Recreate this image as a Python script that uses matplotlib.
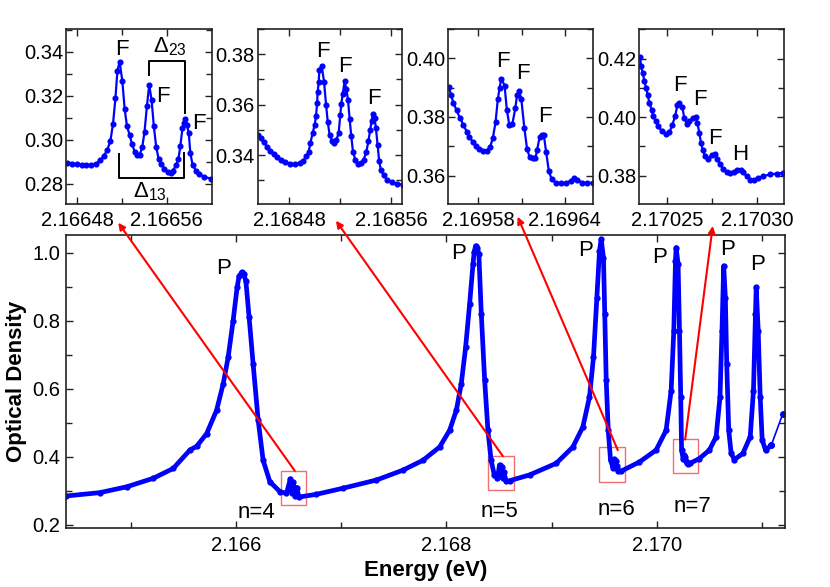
import matplotlib
matplotlib.use("Agg")
import matplotlib.pyplot as plt
from matplotlib.patches import Rectangle
from matplotlib.ticker import MultipleLocator, FixedLocator, FormatStrFormatter

plt.rcParams['font.family'] = ['Liberation Sans', 'DejaVu Sans']
plt.rcParams['mathtext.fontset'] = 'custom'
plt.rcParams['mathtext.rm'] = 'Liberation Sans'
plt.rcParams['mathtext.it'] = 'Liberation Sans'

# ---- main spectrum (energy in eV, optical density) ----
e_main = [2.164386, 2.164709, 2.164962, 2.165215, 2.165405, 2.165563, 2.165627, 2.165722,
          2.165817, 2.165880, 2.165927, 2.165974, 2.166012, 2.166030, 2.166054, 2.166075,
          2.166095, 2.166126,
          2.166164, 2.166212, 2.166259, 2.166323, 2.166418, 2.166481, 2.166518, 2.166534,
          2.166544, 2.166563, 2.166577, 2.166600, 2.166766, 2.167019, 2.167336, 2.167588,
          2.167778, 2.167936, 2.168031, 2.168095, 2.168142, 2.168183, 2.168221, 2.168253,
          2.168265, 2.168278, 2.168295, 2.168309, 2.168332, 2.168364, 2.168395, 2.168425,
          2.168455, 2.168485,
          2.168505, 2.168515, 2.168524, 2.168538, 2.168546, 2.168569, 2.168601, 2.168791,
          2.169044, 2.169202, 2.169297, 2.169360, 2.169398, 2.169430, 2.169455, 2.169471,
          2.169493, 2.169505, 2.169519, 2.169538, 2.169560, 2.169584, 2.169596, 2.169603,
          2.169608, 2.169616, 2.169624, 2.169634, 2.169660, 2.169835, 2.169993, 2.170088,
          2.170136, 2.170161, 2.170177, 2.170183, 2.170202, 2.170215, 2.170227, 2.170235,
          2.170250, 2.170257, 2.170266, 2.170277, 2.170290, 2.170296, 2.170315, 2.170404,
          2.170499, 2.170563, 2.170600, 2.170619, 2.170635, 2.170651, 2.170664, 2.170683,
          2.170706, 2.170737, 2.170817, 2.170887, 2.170918, 2.170937, 2.170944, 2.170963,
          2.170982, 2.171001, 2.171033, 2.171087]
od_main = [0.285, 0.295, 0.312, 0.337, 0.366, 0.420, 0.431, 0.468,
           0.537, 0.615, 0.693, 0.800, 0.898, 0.930, 0.942, 0.936,
           0.917, 0.810,
           0.673, 0.508, 0.390, 0.327, 0.298, 0.293, 0.335, 0.293,
           0.325, 0.285, 0.310, 0.282, 0.290, 0.308, 0.332, 0.361,
           0.390, 0.429, 0.478, 0.537, 0.615, 0.722, 0.849, 0.966,
           1.003, 1.020, 1.014, 0.995, 0.820, 0.625, 0.478, 0.390,
           0.348, 0.337,
           0.376, 0.345, 0.369, 0.337, 0.356, 0.328, 0.330, 0.347,
           0.381, 0.429, 0.488, 0.576, 0.693, 0.868, 1.005, 1.039,
           0.985, 0.820, 0.625, 0.478, 0.390, 0.368, 0.393, 0.378,
           0.389, 0.366, 0.374, 0.358, 0.358, 0.385, 0.420, 0.478,
           0.595, 0.771, 0.976, 1.015, 0.966, 0.771, 0.576, 0.420,
           0.394, 0.405, 0.400, 0.387, 0.382, 0.379, 0.381, 0.395,
           0.420, 0.459, 0.576, 0.771, 0.961, 0.868, 0.673, 0.478,
           0.410, 0.392, 0.410, 0.459, 0.595, 0.820, 0.898, 0.771,
           0.576, 0.449, 0.420, 0.434]
# last, sparsely sampled part of the scan
e_tail = [2.171087, 2.171197]
od_tail = [0.434, 0.527]

# ---- n=4 fine structure ----
e_n4 = [2.1664705, 2.1664750, 2.1664794, 2.1664839, 2.1664883, 2.1664927, 2.1664972, 2.1665001,
        2.1665037, 2.1665067, 2.1665096, 2.1665120, 2.1665141, 2.1665159, 2.1665179, 2.1665203,
        2.1665224, 2.1665244, 2.1665268, 2.1665289, 2.1665313, 2.1665336, 2.1665357, 2.1665381,
        2.1665401, 2.1665422, 2.1665443, 2.1665464, 2.1665484, 2.1665505, 2.1665526, 2.1665550,
        2.1665579, 2.1665609, 2.1665633, 2.1665653, 2.1665683, 2.1665704, 2.1665721, 2.1665739,
        2.1665751, 2.1665766, 2.1665781, 2.1665796, 2.1665810, 2.1665831, 2.1665861, 2.1665890,
        2.1665935, 2.1665994]
od_n4 = [0.2894, 0.2891, 0.2888, 0.2885, 0.2884, 0.2885, 0.2891, 0.2906,
         0.2925, 0.2952, 0.2993, 0.3073, 0.3187, 0.3313, 0.3354, 0.3266,
         0.3137, 0.3063, 0.3020, 0.2982, 0.2944, 0.2929, 0.2929, 0.2967,
         0.3036, 0.3152, 0.3248, 0.3180, 0.3061, 0.2967, 0.2914, 0.2888,
         0.2868, 0.2853, 0.2846, 0.2858, 0.2884, 0.2914, 0.2972, 0.3051,
         0.3077, 0.3096, 0.3066, 0.3028, 0.2937, 0.2884, 0.2858, 0.2843,
         0.2830, 0.2823]

# ---- n=5 fine structure ----
e_n5 = [2.1684553, 2.1684572, 2.1684598, 2.1684624, 2.1684650, 2.1684677, 2.1684703, 2.1684734,
        2.1684769, 2.1684808, 2.1684847, 2.1684881, 2.1684908, 2.1684934, 2.1684952, 2.1684965,
        2.1684984, 2.1684999, 2.1685010, 2.1685018, 2.1685023, 2.1685031, 2.1685036, 2.1685054,
        2.1685073, 2.1685089, 2.1685102, 2.1685117, 2.1685136, 2.1685154, 2.1685170, 2.1685188,
        2.1685201, 2.1685209, 2.1685220, 2.1685235, 2.1685249, 2.1685262, 2.1685275, 2.1685288,
        2.1685301, 2.1685319, 2.1685340, 2.1685364, 2.1685385, 2.1685406, 2.1685422, 2.1685437,
        2.1685448, 2.1685458, 2.1685472, 2.1685482, 2.1685495, 2.1685508, 2.1685521, 2.1685542,
        2.1685569, 2.1685608, 2.1685647, 2.1685692]
od_n5 = [0.3480, 0.3467, 0.3450, 0.3434, 0.3418, 0.3405, 0.3392, 0.3382,
         0.3372, 0.3366, 0.3364, 0.3368, 0.3378, 0.3395, 0.3414, 0.3447,
         0.3489, 0.3520, 0.3555, 0.3605, 0.3651, 0.3691, 0.3737, 0.3755,
         0.3691, 0.3599, 0.3533, 0.3480, 0.3454, 0.3447, 0.3460, 0.3487,
         0.3559, 0.3603, 0.3641, 0.3692, 0.3661, 0.3618, 0.3542, 0.3474,
         0.3414, 0.3382, 0.3364, 0.3368, 0.3382, 0.3411, 0.3454, 0.3500,
         0.3537, 0.3562, 0.3546, 0.3507, 0.3441, 0.3375, 0.3342, 0.3320,
         0.3303, 0.3292, 0.3286, 0.3283]

# ---- n=6 fine structure ----
e_n6 = [2.1695595, 2.1695609, 2.1695625, 2.1695648, 2.1695672, 2.1695695, 2.1695718, 2.1695737,
        2.1695760, 2.1695784, 2.1695807, 2.1695835, 2.1695858, 2.1695882, 2.1695900, 2.1695919,
        2.1695935, 2.1695947, 2.1695959, 2.1695982, 2.1695998, 2.1696015, 2.1696036, 2.1696057,
        2.1696069, 2.1696083, 2.1696099, 2.1696120, 2.1696139, 2.1696157, 2.1696178, 2.1696197,
        2.1696209, 2.1696227, 2.1696244, 2.1696255, 2.1696272, 2.1696290, 2.1696309, 2.1696337,
        2.1696372, 2.1696407, 2.1696442, 2.1696465, 2.1696489, 2.1696524, 2.1696559, 2.1696601]
od_n6 = [0.3901, 0.3875, 0.3849, 0.3822, 0.3796, 0.3773, 0.3750, 0.3731,
         0.3716, 0.3702, 0.3691, 0.3684, 0.3685, 0.3699, 0.3727, 0.3781,
         0.3860, 0.3898, 0.3931, 0.3907, 0.3824, 0.3773, 0.3775, 0.3830,
         0.3875, 0.3890, 0.3860, 0.3761, 0.3690, 0.3663, 0.3659, 0.3659,
         0.3688, 0.3733, 0.3739, 0.3739, 0.3679, 0.3617, 0.3588, 0.3576,
         0.3574, 0.3574, 0.3582, 0.3593, 0.3585, 0.3576, 0.3574, 0.3576]

# ---- n=7 fine structure ----
e_n7 = [2.1702353, 2.1702358, 2.1702368, 2.1702377, 2.1702386, 2.1702395, 2.1702404, 2.1702417,
        2.1702426, 2.1702439, 2.1702454, 2.1702472, 2.1702496, 2.1702515, 2.1702531, 2.1702546,
        2.1702559, 2.1702570, 2.1702586, 2.1702597, 2.1702610, 2.1702625, 2.1702643, 2.1702660,
        2.1702669, 2.1702680, 2.1702689, 2.1702699, 2.1702711, 2.1702730, 2.1702748, 2.1702767,
        2.1702779, 2.1702794, 2.1702812, 2.1702831, 2.1702849, 2.1702871, 2.1702890, 2.1702908,
        2.1702923, 2.1702941, 2.1702960, 2.1702982, 2.1703005, 2.1703033, 2.1703070, 2.1703107,
        2.1703143]
od_n7 = [0.4207, 0.4173, 0.4150, 0.4122, 0.4099, 0.4076, 0.4048, 0.4025,
         0.4005, 0.3985, 0.3968, 0.3953, 0.3942, 0.3948, 0.3974, 0.4002,
         0.4042, 0.4048, 0.4034, 0.3997, 0.3977, 0.3985, 0.3997, 0.4000,
         0.3980, 0.3946, 0.3911, 0.3889, 0.3866, 0.3857, 0.3872, 0.3874,
         0.3857, 0.3838, 0.3823, 0.3811, 0.3809, 0.3811, 0.3818, 0.3820,
         0.3811, 0.3798, 0.3786, 0.3786, 0.3792, 0.3798, 0.3804, 0.3807,
         0.3809]

BLUE = '#0000ff'
FS_TICK = 14.5
FS_LAB = 16

fig = plt.figure(figsize=(8.3, 5.87), dpi=100)


def style_axes(ax):
    for s in ax.spines.values():
        s.set_linewidth(1.2)
        s.set_color('#222222')
    ax.tick_params(which='both', direction='in', top=True, right=True, width=1.0, colors='#222222')
    ax.tick_params(which='major', length=5)
    ax.tick_params(which='minor', length=4)
    ax.tick_params(labelsize=FS_TICK, labelcolor='black')


# main panel
ax = fig.add_axes([0.0795, 0.1005, 0.8657, 0.4992])
ax.plot(e_main, od_main, '-', color=BLUE, lw=3.4, solid_joinstyle='round')
ax.plot(e_main, od_main, 'o', color=BLUE, ms=3.5, mec=BLUE)
ax.plot(e_tail, od_tail, '-o', color=BLUE, lw=1.2, ms=4, mec=BLUE)
ax.set_xlim(2.164386, 2.171213)
ax.set_ylim(0.191, 1.052)
ax.xaxis.set_major_locator(FixedLocator([2.166, 2.168, 2.170]))
ax.xaxis.set_minor_locator(MultipleLocator(0.001))
ax.xaxis.set_major_formatter(FormatStrFormatter('%.3f'))
ax.yaxis.set_major_locator(MultipleLocator(0.2))
ax.yaxis.set_minor_locator(MultipleLocator(0.1))
ax.yaxis.set_major_formatter(FormatStrFormatter('%.1f'))
style_axes(ax)
ax.tick_params(axis='x', pad=5.5)
ax.tick_params(axis='y', pad=4)
ax.set_xlabel('Energy (eV)', fontsize=FS_LAB, fontweight='bold', labelpad=4)
ax.set_ylabel('Optical Density', fontsize=FS_LAB, fontweight='bold', labelpad=4)

for x, y in [(2.1658795, 0.954), (2.1681196, 0.997), (2.1693222, 1.007),
             (2.1700246, 0.985), (2.1706730, 1.010), (2.1709580, 0.966)]:
    ax.text(x, y, 'P', fontsize=FS_LAB, ha='center', va='center')
for x, y, s in [(2.1661965, 0.236, 'n=4'), (2.1685059, 0.239, 'n=5'),
                (2.1696136, 0.244, 'n=6'), (2.1703407, 0.254, 'n=7')]:
    ax.text(x, y, s, fontsize=FS_LAB, ha='center', va='center')

# zoom boxes and arrows to the insets
boxes = [(2.166427, 0.2587, 2.166671, 0.359), (2.168395, 0.3026, 2.168639, 0.402),
         (2.169448, 0.3269, 2.169695, 0.4276), (2.170151, 0.3532, 2.170392, 0.4539)]
for x0, y0, x1, y1 in boxes:
    ax.add_patch(Rectangle((x0, y0), x1 - x0, y1 - y0, fill=False, ec='#f07070', lw=1.0))
arrows = [((2.166560, 0.359), (0.1425, 0.6206)), ((2.168537, 0.402), (0.4048, 0.624)),
          ((2.169629, 0.4197), (0.6237, 0.6308)), ((2.170269, 0.451), (0.8587, 0.615))]
for start, tip in arrows:
    ax.annotate('', xy=tip, xycoords='figure fraction', xytext=start, textcoords='data',
                arrowprops=dict(arrowstyle='-|>', color='red', lw=1.5, mutation_scale=10,
                                shrinkA=0, shrinkB=0), annotation_clip=False)

# insets
insets = [
    dict(pos=0.0795, w=0.1755, e=e_n4, od=od_n4, xlim=(2.16647, 2.1666), ylim=(0.2706, 0.3503),
         xt=[2.16648, 2.16656], xm=[2.16652], ymaj=0.02),
    dict(pos=0.3105, w=0.1742, e=e_n5, od=od_n5, xlim=(2.168455, 2.168569), ylim=(0.3205, 0.39),
         xt=[2.16848, 2.16856], xm=[2.16852], ymaj=0.02),
    dict(pos=0.5401, w=0.1747, e=e_n6, od=od_n6, xlim=(2.169559, 2.16966), ylim=(0.3502, 0.41),
         xt=[2.16958, 2.16964], xm=[2.16961], ymaj=0.02),
    dict(pos=0.7699, w=0.1751, e=e_n7, od=od_n7, xlim=(2.1702347, 2.1703149), ylim=(0.3702, 0.4301),
         xt=[2.17025, 2.1703], xm=[2.170275], ymaj=0.02),
]
iax = []
for d in insets:
    a = fig.add_axes([d['pos'], 0.652, d['w'], 0.2986])
    a.plot(d['e'], d['od'], '-o', color=BLUE, lw=1.6, ms=3.4, mec=BLUE)
    a.set_xlim(*d['xlim'])
    a.set_ylim(*d['ylim'])
    a.xaxis.set_major_locator(FixedLocator(d['xt']))
    a.xaxis.set_minor_locator(FixedLocator(d['xm']))
    a.xaxis.set_major_formatter(FormatStrFormatter('%.5f'))
    a.yaxis.set_major_locator(MultipleLocator(d['ymaj']))
    a.yaxis.set_minor_locator(MultipleLocator(d['ymaj'] / 2))
    a.yaxis.set_major_formatter(FormatStrFormatter('%.2f'))
    style_axes(a)
    a.tick_params(axis='x', pad=4.5)
    a.tick_params(axis='y', pad=2)
    iax.append(a)

a1, a2, a3, a4 = iax
for x, y in [(2.1665200, 0.3411), (2.1665564, 0.3195), (2.1665890, 0.3073)]:
    a1.text(x, y, 'F', fontsize=FS_LAB, ha='center', va='center')
# splitting brackets
a1.plot([2.1665437, 2.1665437, 2.1665763, 2.1665763], [0.3294, 0.3359, 0.3359, 0.3119],
        color='black', lw=1.4)
a1.plot([2.1665173, 2.1665173, 2.1665757, 2.1665757], [0.2934, 0.2826, 0.2826, 0.2940],
        color='black', lw=1.4)
a1.text(2.1665624, 0.3423, r'$\Delta_{23}$', fontsize=FS_LAB, ha='center', va='center')
a1.text(2.1665446, 0.2762, r'$\Delta_{13}$', fontsize=FS_LAB, ha='center', va='center')

for x, y in [(2.1685062, 0.3809), (2.1685241, 0.3750), (2.1685464, 0.3625)]:
    a2.text(x, y, 'F', fontsize=FS_LAB, ha='center', va='center')
for x, y in [(2.1695970, 0.3989), (2.1696111, 0.3947), (2.1696260, 0.3801)]:
    a3.text(x, y, 'F', fontsize=FS_LAB, ha='center', va='center')
for x, y, s in [(2.1702574, 0.4107, 'F'), (2.1702684, 0.4059, 'F'),
                (2.1702767, 0.3928, 'F'), (2.1702904, 0.3872, 'H')]:
    a4.text(x, y, s, fontsize=FS_LAB, ha='center', va='center')

fig.savefig('out.png', dpi=100)
